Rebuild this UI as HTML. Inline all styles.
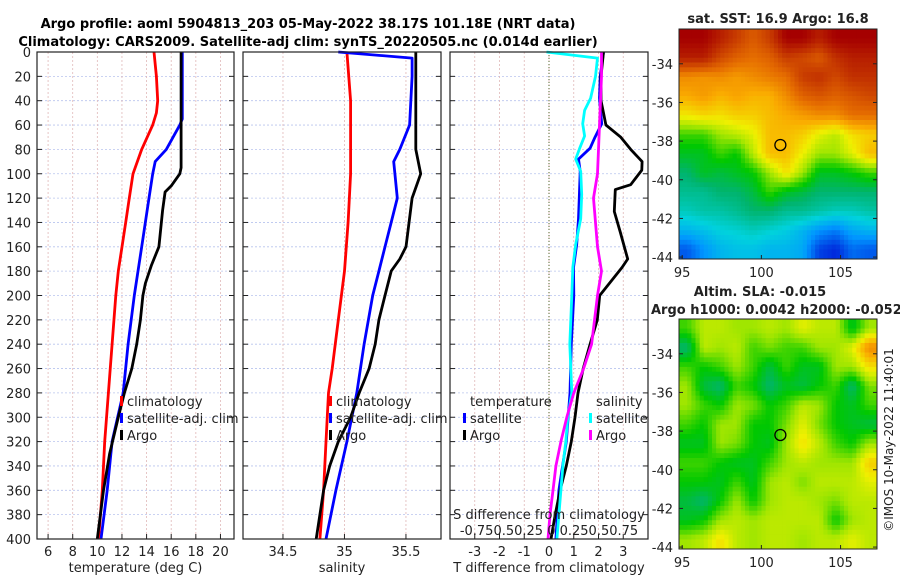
<!DOCTYPE html>
<html><head><meta charset="utf-8">
<style>
body{margin:0;background:#fff;}
svg{display:block;font-family:"DejaVu Sans","Liberation Sans",sans-serif;}
</style></head>
<body>
<svg id="fig" width="900" height="580" viewBox="0 0 900 580">
<text x="308" y="28" text-anchor="middle" font-weight="bold" font-size="13">Argo profile: aoml 5904813_203 05-May-2022 38.17S 101.18E (NRT data)</text>
<text x="308" y="46" text-anchor="middle" font-weight="bold" font-size="13">Climatology: CARS2009. Satellite-adj clim: synTS_20220505.nc (0.014d earlier)</text>
<g id="plots"></g>
<text transform="translate(893,440) rotate(-90)" text-anchor="middle" font-size="12" fill="#222">©IMOS 10-May-2022 11:40:01</text>
</svg>
<script>
// ---------- data ----------
const depthTicks=[0,20,40,60,80,100,120,140,160,180,200,220,240,260,280,300,320,340,360,380,400];
const tempTicks=[6,8,10,12,14,16,18,20];
const salTicks=[34.5,35,35.5];
const salTickLabels=["34.5","35","35.5"];
const tdiffTicks=[-3,-2,-1,0,1,2,3];
// temperature profiles
const tClimDepth=[0,20,40,50,60,80,100,120,140,160,180,200,240,280,320,360,400];
const tClimVal=[14.6,14.8,14.9,14.8,14.5,13.6,12.9,12.6,12.3,12.0,11.7,11.5,11.2,10.9,10.6,10.4,10.1];
const tSatDepth=[0,55,60,80,90,100,120,160,200,240,280,320,360,400];
const tSatVal=[16.9,16.9,16.7,15.6,14.7,14.5,14.2,13.6,13.0,12.5,12.1,11.2,10.8,10.3];
const tArgoDepth=[0,60,95,100,110,115,130,160,175,190,200,220,240,260,280,300,330,360,400];
const tArgoVal=[16.8,16.8,16.8,16.7,16.0,15.5,15.3,15.0,14.4,13.9,13.7,13.5,13.2,12.8,12.2,11.7,11.0,10.5,10.0];
// salinity profiles
const sClimDepth=[0,40,100,140,180,220,260,280,320,360,400];
const sClimVal=[35.02,35.05,35.05,35.03,35.0,34.95,34.9,34.87,34.85,34.83,34.8];
const sSatDepth=[0,5,20,60,80,90,100,120,140,160,180,200,240,280,320,360,400];
const sSatVal=[34.95,35.55,35.55,35.53,35.45,35.4,35.41,35.43,35.38,35.33,35.28,35.23,35.16,35.1,35.02,34.93,34.85];
const sArgoDepth=[0,60,80,100,120,160,170,180,200,220,240,260,280,300,320,340,360,400];
const sArgoVal=[35.58,35.58,35.58,35.62,35.55,35.5,35.45,35.38,35.33,35.28,35.25,35.2,35.12,35.05,34.95,34.88,34.83,34.77];
// difference profiles
const dTSatDepth=[0,20,38,59,70,79,88,98,117,137,158,177,200,240,280,320,360,400];
const dTSatVal=[2.2,2.07,2.04,2.13,1.86,1.66,1.19,1.26,1.23,1.19,1.12,0.99,1.0,0.9,0.85,0.7,0.4,0.28];
const dTArgoDepth=[0,20,40,50,60,70,80,90,97,109,113,131,148,170,177,200,220,240,260,280,300,320,340,360,380,400];
const dTArgoVal=[2.2,2.1,2.1,2.2,2.3,2.9,3.3,3.76,3.75,3.3,2.68,2.64,2.88,3.18,2.95,2.05,1.95,1.66,1.38,1.17,1.05,0.9,0.7,0.45,0.25,0.08];
const dSSatDepth=[0,5,20,38,48,59,69,79,88,98,117,137,158,177,200,240,280,300,320,340,360,380,400];
const dSSatVal=[-0.025,0.49,0.47,0.42,0.36,0.34,0.36,0.31,0.27,0.32,0.33,0.32,0.27,0.24,0.23,0.21,0.23,0.19,0.17,0.14,0.12,0.1,0.08];
const dSArgoDepth=[0,20,60,100,120,160,180,200,240,260,280,300,320,340,360,380,400];
const dSArgoVal=[0.53,0.53,0.51,0.49,0.45,0.49,0.53,0.49,0.43,0.35,0.25,0.18,0.12,0.07,0.04,0.01,-0.01];
// maps (colormap index 0..1), rows north->south, cols west->east
const sstGrid=[
[1,1,.95,.9,.85,.9,1,1,.95,1,1,1],
[.95,.95,.88,.84,.82,.84,.9,.88,.85,.92,.95,.95],
[.78,.77,.78,.76,.78,.8,.82,.9,.92,.88,.92,.92],
[.74,.76,.73,.75,.73,.73,.78,.84,.86,.84,.86,.88],
[.67,.69,.68,.7,.7,.72,.74,.76,.78,.78,.82,.82],
[.55,.55,.6,.62,.65,.72,.72,.7,.65,.62,.68,.7],
[.5,.5,.55,.52,.62,.72,.72,.66,.6,.6,.65,.72],
[.45,.5,.48,.5,.52,.6,.68,.6,.5,.5,.52,.55],
[.42,.42,.45,.45,.48,.55,.5,.48,.45,.45,.45,.45],
[.38,.4,.4,.42,.45,.45,.42,.42,.4,.38,.38,.4],
[.3,.32,.35,.36,.38,.36,.34,.3,.25,.22,.28,.3],
[.18,.25,.3,.32,.32,.3,.3,.28,.15,.12,.2,.18]];
const slaGrid=[
[.55,.62,.62,.6,.6,.62,.6,.65,.62,.62,.5,.6],
[.45,.62,.6,.62,.55,.58,.55,.55,.6,.6,.65,.78],
[.55,.52,.55,.6,.55,.48,.55,.5,.5,.6,.6,.68],
[.6,.48,.45,.55,.52,.45,.5,.48,.52,.55,.45,.58],
[.6,.55,.52,.6,.58,.52,.55,.62,.6,.52,.5,.55],
[.55,.52,.6,.6,.52,.52,.58,.65,.58,.52,.5,.48],
[.5,.5,.6,.58,.52,.5,.6,.68,.62,.55,.52,.6],
[.55,.55,.52,.5,.5,.55,.6,.62,.6,.6,.6,.7],
[.52,.52,.5,.55,.5,.6,.62,.58,.62,.62,.62,.65],
[.48,.45,.52,.6,.52,.6,.62,.62,.6,.58,.62,.62],
[.5,.52,.6,.62,.6,.62,.62,.62,.62,.52,.6,.62],
[.6,.62,.68,.62,.6,.62,.62,.6,.62,.62,.65,.62]];
const latTicks=[-34,-36,-38,-40,-42,-44];
const lonTicks=[95,100,105];
const floatLon=101.2, floatLat=-38.2;

// ---------- helpers ----------
const NS="http://www.w3.org/2000/svg";
const root=document.getElementById('plots');
function el(tag,attrs,parent){const e=document.createElementNS(NS,tag);for(const k in attrs)e.setAttribute(k,attrs[k]);(parent||root).appendChild(e);return e;}
function txt(x,y,s,attrs,parent){const e=el('text',Object.assign({x:x,y:y,'font-size':13,fill:'#222'},attrs||{}),parent);e.textContent=s;return e;}
const PT=52,PB=539;
const yD=d=>PT+(d/400)*(PB-PT);
function lin(d0,d1,r0,r1){return v=>r0+(v-d0)/(d1-d0)*(r1-r0);}
const panels=[
 {x0:37,x1:234,sx:lin(5.1,21.1,37,234),ticks:tempTicks,labels:tempTicks.map(String),xlabel:'temperature (deg C)',name:'temperature-panel'},
 {x0:243,x1:441,sx:lin(34.175,35.785,243,441),ticks:salTicks,labels:salTickLabels,xlabel:'salinity',name:'salinity-panel'},
 {x0:450,x1:648,sx:lin(-4,4,450,648),ticks:tdiffTicks,labels:tdiffTicks.map(String),xlabel:'T difference from climatology',name:'difference-panel'}];
panels.forEach((p,i)=>{
 const g=el('g',{});
 
 
 depthTicks.forEach(d=>{const l=el('line',{x1:p.x0,x2:p.x1,y1:yD(d),y2:yD(d),stroke:'#b8c4ee','stroke-width':0.8,'stroke-dasharray':'2,2'},g);
   
   el('line',{x1:p.x0,x2:p.x0+5,y1:yD(d),y2:yD(d),stroke:'#222'},g);el('line',{x1:p.x1-5,x2:p.x1,y1:yD(d),y2:yD(d),stroke:'#222'},g);});
 p.ticks.forEach((t,j)=>{const x=p.sx(t);const l=el('line',{x1:x,x2:x,y1:PT,y2:PB,stroke:'#e0b8b8','stroke-width':0.8,'stroke-dasharray':'2,2'},g);
   
   el('line',{x1:x,x2:x,y1:PB-5,y2:PB,stroke:'#222'},g);
   const tl=txt(x,PB+17,p.labels[j],{'text-anchor':'middle'},g);
   });
 const xl=txt((p.x0+p.x1)/2,PB+33,p.xlabel,{'text-anchor':'middle'},g);
 
});
depthTicks.forEach(d=>{const t=txt(31,yD(d)+5,String(d),{'text-anchor':'end'});
 });
el('line',{x1:549,x2:549,y1:PT,y2:PB,stroke:'#556b2f','stroke-width':1,'stroke-dasharray':'1,2'});

function line(p,depths,vals,color,name,scale){
 const sc=scale||1;
 const pts=depths.map((d,k)=>p.sx(vals[k]*sc).toFixed(1)+','+yD(d).toFixed(1)).join(' ');
 const pl=el('polyline',{points:pts,fill:'none',stroke:color,'stroke-width':2.8,'stroke-linejoin':'round'});
 
 
}
line(panels[0],tClimDepth,tClimVal,'#ff0000','temp-climatology-line');
line(panels[0],tSatDepth,tSatVal,'#0000ff','temp-satellite-line');
line(panels[0],tArgoDepth,tArgoVal,'#000','temp-argo-line');
line(panels[1],sClimDepth,sClimVal,'#ff0000','sal-climatology-line');
line(panels[1],sSatDepth,sSatVal,'#0000ff','sal-satellite-line');
line(panels[1],sArgoDepth,sArgoVal,'#000','sal-argo-line');
line(panels[2],dTSatDepth,dTSatVal,'#0000ff','tdiff-satellite-line');
line(panels[2],dTArgoDepth,dTArgoVal,'#000','tdiff-argo-line');
line(panels[2],dSSatDepth,dSSatVal,'#00ffff','sdiff-satellite-line',4);
line(panels[2],dSArgoDepth,dSArgoVal,'#ff00ff','sdiff-argo-line',4);
panels.forEach(p=>{el('rect',{x:p.x0,y:PT,width:p.x1-p.x0,height:PB-PT,fill:'none',stroke:'#222','stroke-width':1.2});});

function leg(x,y,color,label,name){
 const g=el('g',{});
 
 
 el('rect',{x:x,y:y-10,width:3,height:10,fill:color},g);
 txt(x+7,y,label,{},g);
}
leg(120,406,'#ff0000','climatology','legend-climatology');
leg(120,423,'#0000ff','satellite-adj. clim','legend-satellite');
leg(120,440,'#000','Argo','legend-argo');
leg(329,406,'#ff0000','climatology','legend-climatology-sal');
leg(329,423,'#0000ff','satellite-adj. clim','legend-satellite-sal');
leg(329,440,'#000','Argo','legend-argo-sal');
txt(470,406,'temperature');
leg(463,423,'#0000ff','satellite','legend-t-satellite');
leg(463,440,'#000','Argo','legend-t-argo');
txt(596,406,'salinity');
leg(589,423,'#00ffff','satellite','legend-s-satellite');
leg(589,440,'#ff00ff','Argo','legend-s-argo');
const st=txt(549,519,'S difference from climatology',{'text-anchor':'middle'});

const sl=txt(549,535,'-0.750.50.25 0 0.250.50.75',{'text-anchor':'middle'});


// colormap
const cmapStops=[[0,0,0,130],[0.12,0,40,220],[0.25,0,150,255],[0.35,0,210,220],[0.45,0,180,110],[0.52,0,200,0],[0.6,160,230,0],[0.66,240,240,0],[0.74,250,170,0],[0.82,230,110,0],[0.9,200,60,0],[1,165,0,0]];
function cmap(v){
 v=Math.max(0,Math.min(1,v));
 for(let i=1;i<cmapStops.length;i++){const a=cmapStops[i-1],b=cmapStops[i];
  if(v<=b[0]){const t=(v-a[0])/(b[0]-a[0]);return 'rgb('+[1,2,3].map(k=>Math.round(a[k]+t*(b[k]-a[k]))).join(',')+')';}}
 return 'rgb(165,0,0)';
}
function sample(grid,fr,fc){
 const nr=grid.length,nc=grid[0].length;
 fr=Math.max(0,Math.min(nr-1,fr));fc=Math.max(0,Math.min(nc-1,fc));
 const r0=Math.floor(fr),c0=Math.floor(fc),r1=Math.min(nr-1,r0+1),c1=Math.min(nc-1,c0+1),tr=fr-r0,tc=fc-c0;
 return (grid[r0][c0]*(1-tc)+grid[r0][c1]*tc)*(1-tr)+(grid[r1][c0]*(1-tc)+grid[r1][c1]*tc)*tr;
}
function map(grid,x0,x1,y0,y1,name,title1,title2,ty){
 const g=el('g',{});
 
 
 const lonX=lin(94.8,107.3,x0,x1), latY=lin(-32.2,-44.1,y0,y1);
 const nr=grid.length,nc=grid[0].length,S=4;
 const cw=(x1-x0)/(nc*S),ch=(y1-y0)/(nr*S);
 for(let r=0;r<nr*S;r++)for(let c=0;c<nc*S;c++){
   const v=sample(grid,(r+0.5)/S-0.5,(c+0.5)/S-0.5);
   const cell=el('rect',{x:(x0+c*cw).toFixed(2),y:(y0+r*ch).toFixed(2),width:(cw+0.4).toFixed(2),height:(ch+0.4).toFixed(2),fill:cmap(v)},g);
   
   
 }
 el('rect',{x:x0,y:y0,width:x1-x0,height:y1-y0,fill:'none',stroke:'#222'},g);
 latTicks.forEach(t=>{const y=latY(t);el('line',{x1:x0,x2:x0+4,y1:y,y2:y,stroke:'#222'},g);el('line',{x1:x1-4,x2:x1,y1:y,y2:y,stroke:'#222'},g);
   txt(x0-6,y+5,String(t),{'text-anchor':'end'},g);});
 lonTicks.forEach(t=>{const x=lonX(t);el('line',{x1:x,x2:x,y1:y1-4,y2:y1,stroke:'#222'},g);txt(x,y1+18,String(t),{'text-anchor':'middle'},g);});
 const c=el('circle',{cx:lonX(floatLon),cy:latY(floatLat),r:5.5,fill:'none',stroke:'#000','stroke-width':1.3},g);
 
 if(title1){txt(title2?760:778,ty,title1,{'text-anchor':'middle','font-weight':'bold'},g);}
 if(title2){txt(651,ty+18,title2,{'font-weight':'bold'},g);}
}
map(sstGrid,679,877,29,259,'sst-map','sat. SST: 16.9 Argo: 16.8',null,23);
map(slaGrid,679,877,319,549,'sla-map','Altim. SLA: -0.015','Argo h1000: 0.0042 h2000: -0.052',296);
</script>
</body></html>
